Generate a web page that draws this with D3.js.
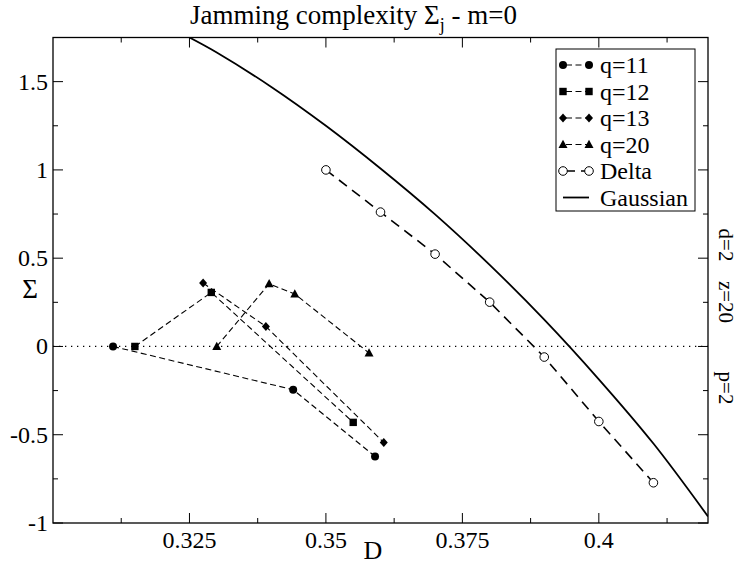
<!DOCTYPE html>
<html><head><meta charset="utf-8">
<script src="https://cdn.jsdelivr.net/npm/d3@7"></script>
<style>body{margin:0;background:#fff}svg{display:block}text{font-family:"Liberation Serif","Times New Roman",serif;fill:#000}</style>
</head><body>
<script>
// ---- data ----
const q11 = [[0.311,0],[0.344,-0.245],[0.359,-0.623]];
const q12 = [[0.315,0],[0.329,0.306],[0.355,-0.430]];
const q13 = [[0.3275,0.359],[0.339,0.113],[0.3606,-0.544]];
const q20 = [[0.330,0],[0.3396,0.355],[0.3443,0.297],[0.3579,-0.037]];
const delta = [[0.35,1.0],[0.36,0.761],[0.37,0.523],[0.38,0.251],[0.39,-0.060],[0.40,-0.425],[0.41,-0.772]];
const gaussian = [[0.325,1.75],[0.33,1.665],[0.34,1.47],[0.35,1.25],[0.36,1.008],[0.37,0.748],[0.38,0.462],[0.39,0.152],[0.40,-0.186],[0.41,-0.55],[0.42,-0.963]];
const xTicks = [0.325,0.35,0.375,0.4];
const xTickLabels = ["0.325","0.35","0.375","0.4"];
const yTicks = [-1,-0.5,0,0.5,1,1.5];
const yTickLabels = ["-1","-0.5","0","0.5","1","1.5"];
const legendLabels = ["q=11","q=12","q=13","q=20","Delta","Gaussian"];
const sideLabels = ["d=2","z=20","p=2"];

const W=740,H=565;
const L=53,R=708,T=37.5,B=523;
const svg=d3.select("body").append("svg").attr("width",W).attr("height",H).attr("font-family","Liberation Serif, Times New Roman, serif");
const x=d3.scaleLinear().domain([0.30,0.42]).range([L,R]);
const y=d3.scaleLinear().domain([-1,1.75]).range([B,T]);

const clipId="plotclip";
svg.append("clipPath").attr("id",clipId).append("rect").attr("x",L).attr("y",T).attr("width",R-L).attr("height",B-T);

// ticks (inward, on all four sides)
const xMinor=d3.range(0.3125,0.42,0.025);
const yMinor=d3.range(-0.75,1.75,0.5);
const g=svg.append("g").attr("stroke","#000").attr("stroke-width",1);
xTicks.forEach(v=>{g.append("line").attr("x1",x(v)).attr("x2",x(v)).attr("y1",B).attr("y2",B-10);g.append("line").attr("x1",x(v)).attr("x2",x(v)).attr("y1",T).attr("y2",T+10);});
xMinor.forEach(v=>{g.append("line").attr("x1",x(v)).attr("x2",x(v)).attr("y1",B).attr("y2",B-5);g.append("line").attr("x1",x(v)).attr("x2",x(v)).attr("y1",T).attr("y2",T+5);});
yTicks.forEach(v=>{g.append("line").attr("y1",y(v)).attr("y2",y(v)).attr("x1",L).attr("x2",L+10);g.append("line").attr("y1",y(v)).attr("y2",y(v)).attr("x1",R).attr("x2",R-10);});
yMinor.forEach(v=>{g.append("line").attr("y1",y(v)).attr("y2",y(v)).attr("x1",L).attr("x2",L+5);g.append("line").attr("y1",y(v)).attr("y2",y(v)).attr("x1",R).attr("x2",R-5);});

// tick labels
xTicks.forEach((v,i)=>svg.append("text").attr("x",x(v)).attr("y",B+25).attr("text-anchor","middle").attr("font-size",24).text(xTickLabels[i]));
yTicks.forEach((v,i)=>svg.append("text").attr("x",L-5).attr("y",y(v)+8).attr("text-anchor","end").attr("font-size",24).text(yTickLabels[i]));

// zero dotted line
const plot=svg.append("g").attr("clip-path",`url(#${clipId})`);
plot.append("line").attr("x1",x(0.30)).attr("x2",x(0.42)).attr("y1",y(0)).attr("y2",y(0)).attr("stroke","#000").attr("stroke-width",1.3).attr("stroke-dasharray","1.3,4.7");

const line=d3.line().x(d=>x(d[0])).y(d=>y(d[1]));
// Gaussian
plot.append("path").datum(gaussian).attr("d",d3.line().curve(d3.curveCatmullRom).x(d=>x(d[0])).y(d=>y(d[1]))).attr("fill","none").attr("stroke","#000").attr("stroke-width",1.8);
// Delta
plot.append("path").datum(delta).attr("d",line).attr("fill","none").attr("stroke","#000").attr("stroke-width",1.6).attr("stroke-dasharray","10,6.5");
// q series
[q11,q12,q13,q20].forEach(s=>plot.append("path").datum(s).attr("d",line).attr("fill","none").attr("stroke","#000").attr("stroke-width",1.1).attr("stroke-dasharray","6,3.5"));

function marker(sel,type,cx,cy){
  if(type==="circle") sel.append("circle").attr("cx",cx).attr("cy",cy).attr("r",4);
  else if(type==="square") sel.append("rect").attr("x",cx-3.7).attr("y",cy-3.7).attr("width",7.4).attr("height",7.4);
  else if(type==="diamond") sel.append("path").attr("d",`M${cx},${cy-4.5}L${cx+4},${cy}L${cx},${cy+4.5}L${cx-4},${cy}Z`);
  else if(type==="triangle") sel.append("path").attr("d",`M${cx},${cy-4.8}L${cx+4.5},${cy+3.5}L${cx-4.5},${cy+3.5}Z`);
  else if(type==="open") sel.append("circle").attr("cx",cx).attr("cy",cy).attr("r",4.3).attr("fill","#fff").attr("stroke","#000").attr("stroke-width",1);
}
const mk=svg.append("g").attr("fill","#000");
const series=[[q11,"circle"],[q12,"square"],[q13,"diamond"],[q20,"triangle"],[delta,"open"]];
series.forEach(([s,t])=>s.forEach(d=>marker(mk,t,x(d[0]),y(d[1]))));

// frame
svg.append("rect").attr("x",L).attr("y",T).attr("width",R-L).attr("height",B-T).attr("fill","none").attr("stroke","#000").attr("stroke-width",1.3);

// legend
const lg=svg.append("g");
lg.append("rect").attr("x",556).attr("y",49).attr("width",139).attr("height",162).attr("fill","#fff").attr("stroke","#000").attr("stroke-width",1);
const types=["circle","square","diamond","triangle","open","solid"];
legendLabels.forEach((lab,i)=>{
  const yy=65+i*26.5;
  const t=types[i];
  if(t==="solid"){
    lg.append("line").attr("x1",563).attr("x2",589).attr("y1",yy).attr("y2",yy).attr("stroke","#000").attr("stroke-width",1.8);
  } else {
    lg.append("line").attr("x1",563).attr("x2",589).attr("y1",yy).attr("y2",yy).attr("stroke","#000").attr("stroke-width",t==="open"?1.6:1.1).attr("stroke-dasharray",t==="open"?"10,6":"6,3.5").attr("stroke-dashoffset",t==="open"?-2:-3);
    const m=lg.append("g").attr("fill","#000");
    marker(m,t,563,yy);marker(m,t,589,yy);
  }
  lg.append("text").attr("x",600).attr("y",yy+8).attr("font-size",24).text(lab);
});

// axis labels
svg.append("text").attr("x",30).attr("y",298).attr("text-anchor","middle").attr("font-size",27).text("Σ");
svg.append("text").attr("x",373).attr("y",559).attr("text-anchor","middle").attr("font-size",26).text("D");

// title
const tt=svg.append("text").attr("x",190).attr("y",24).attr("font-size",27);
tt.append("tspan").text("Jamming complexity Σ");
tt.append("tspan").attr("font-size",18).attr("dy",7).text("j");
tt.append("tspan").attr("dy",-7).text(" - m=0");

// side labels
const sidePos=[245,302,388];
sideLabels.forEach((s,i)=>svg.append("text").attr("transform",`translate(719,${sidePos[i]}) rotate(90)`).attr("text-anchor","middle").attr("font-size",21).text(s));
</script>
</body></html>
